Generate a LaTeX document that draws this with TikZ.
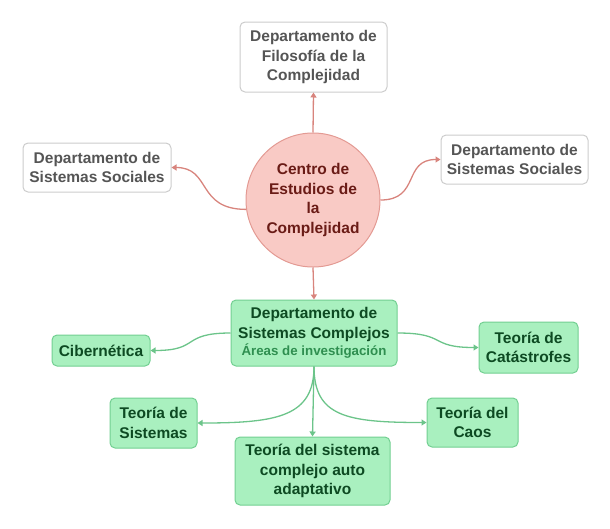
\documentclass[tikz,border=0pt]{standalone}
\usepackage{fontspec}
\setmainfont{Liberation Sans}
\usetikzlibrary{arrows.meta}
\definecolor{gborder}{HTML}{CCCCCC}
\definecolor{gtext}{HTML}{555555}
\definecolor{cfill}{HTML}{F9CAC5}
\definecolor{cborder}{HTML}{E39A93}
\definecolor{ctext}{HTML}{6A1B16}
\definecolor{rline}{HTML}{D8847D}
\definecolor{grfill}{HTML}{A9F0BF}
\definecolor{grborder}{HTML}{72CF91}
\definecolor{grtext}{HTML}{0D4A22}
\definecolor{grsub}{HTML}{2F8F50}
\definecolor{grline}{HTML}{6CC48A}
\tikzset{
  txt/.style={font=\bfseries\fontsize{15.5}{19.5}\selectfont, align=center, inner sep=0pt},
  graybox/.style={txt, draw=gborder, line width=1pt, fill=white, rounded corners=5pt, text=gtext},
  greenbox/.style={txt, draw=grborder, line width=1pt, fill=grfill, rounded corners=5pt, text=grtext},
  centre/.style={txt, circle, draw=cborder, line width=1pt, fill=cfill, text=ctext, minimum size=134pt},
  redarrow/.style={draw=rline, line width=1.3pt, -{Triangle[width=6pt,length=5pt]}},
  greenarrow/.style={draw=grline, line width=1.3pt, -{Triangle[width=6pt,length=5pt]}}
}
\begin{document}
\begin{tikzpicture}[x=1pt,y=-1pt]
\useasboundingbox (0,0) rectangle (610,528);
\node[centre] (circ) at (313,200) {Centro de\\Estudios de\\la\\Complejidad};
\node[graybox, minimum width=147pt, minimum height=70pt] (top) at (313.5,57) {Departamento de\\Filosofía de la\\Complejidad};
\node[graybox, minimum width=148pt, minimum height=49pt] (ssl) at (97,167.5) {Departamento de\\Sistemas Sociales};
\node[graybox, minimum width=147pt, minimum height=49pt] (ssr) at (514.5,159.5) {Departamento de\\Sistemas Sociales};
\node[greenbox, minimum width=166pt, minimum height=66pt] (dsc) at (314,333) {Departamento de\\Sistemas Complejos\\[-2pt]{\color{grsub}\fontsize{13.3}{16}\selectfont Áreas de investigación}};
\node[greenbox, minimum width=98pt, minimum height=31pt] (cib) at (101,350.5) {Cibernética};
\node[greenbox, minimum width=99pt, minimum height=51pt] (cat) at (528.5,347.5) {Teoría de\\Catástrofes};
\node[greenbox, minimum width=87pt, minimum height=50pt] (tsis) at (153.5,423) {Teoría de\\Sistemas};
\node[greenbox, minimum width=155pt, minimum height=68pt] (tcaa) at (312.5,471) {Teoría del sistema\\complejo auto\\adaptativo};
\node[greenbox, minimum width=91pt, minimum height=49pt] (caos) at (472.5,422.5) {Teoría del\\Caos};
% red connectors
\draw[redarrow] (circ.north) -- (top.south);
\draw[redarrow] (circ.188) .. controls +(-50,0) and +(40,0) .. (ssl.east);
\draw[redarrow] (circ.east) .. controls +(40,0) and +(-38,0) .. (ssr.west);
\draw[redarrow] (circ.south) -- (dsc.north);
% green connectors
\draw[greenarrow] (dsc.west) .. controls +(-50,0) and +(50,0) .. (cib.east);
\draw[greenarrow] (dsc.east) .. controls +(50,0) and +(-50,0) .. (cat.west);
\draw[greenarrow] (dsc.south) .. controls +(0,50) and +(80,0) .. (tsis.east);
\draw[greenarrow] (dsc.south) .. controls +(0,50) and +(-80,0) .. (caos.west);
\draw[greenarrow] (dsc.south) -- (tcaa.north);
\end{tikzpicture}
\end{document}
